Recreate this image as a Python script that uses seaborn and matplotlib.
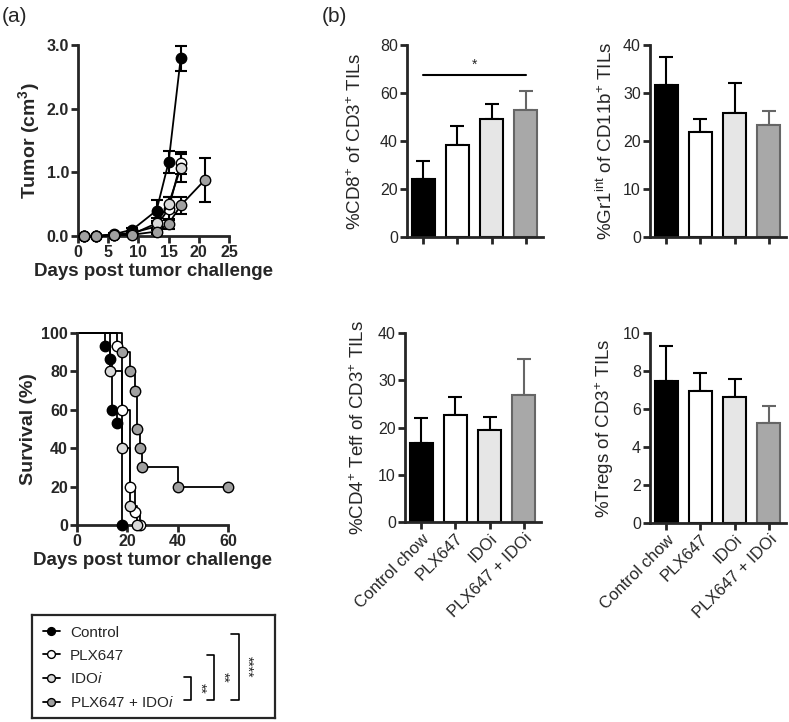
import numpy as np
import pandas as pd
import matplotlib
matplotlib.use("Agg")
import matplotlib.pyplot as plt
import seaborn as sns

sns.set_style("ticks")
plt.rcParams['font.family'] = ['Liberation Sans', 'DejaVu Sans']
plt.rcParams['mathtext.fontset'] = 'custom'
plt.rcParams['mathtext.rm'] = 'Liberation Sans'
plt.rcParams['mathtext.it'] = 'Liberation Sans:italic'
plt.rcParams['mathtext.bf'] = 'Liberation Sans:bold'
plt.rcParams['mathtext.default'] = 'rm'

# ---- data ----
groups = ['Control', 'PLX647', 'IDOi', 'PLX647 + IDOi']
legend_labels = ['Control', 'PLX647', r'IDO$\mathit{i}$', r'PLX647 + IDO$\mathit{i}$']
colors = ['black', 'white', '#d9d9d9', '#a0a0a0']

# tumor growth (cm3)
ctrl_days = [1, 3, 6, 9, 13, 15, 17]
ctrl_vol = [0.0, 0.0, 0.03, 0.10, 0.40, 1.16, 2.79]
ctrl_err = [0.0, 0.0, 0.01, 0.02, 0.16, 0.17, 0.20]
plx_days = [1, 3, 6, 9, 13, 15, 17]
plx_vol = [0.0, 0.0, 0.02, 0.05, 0.15, 0.43, 1.15]
plx_err = [0.0, 0.0, 0.01, 0.02, 0.06, 0.18, 0.17]
ido_days = [1, 3, 6, 9, 13, 15, 17]
ido_vol = [0.0, 0.0, 0.01, 0.03, 0.20, 0.50, 1.07]
ido_err = [0.0, 0.0, 0.01, 0.02, 0.08, 0.12, 0.22]
combo_days = [1, 3, 6, 9, 13, 15, 17, 21]
combo_vol = [0.0, 0.0, 0.01, 0.02, 0.07, 0.19, 0.48, 0.88]
combo_err = [0.0, 0.0, 0.01, 0.01, 0.04, 0.08, 0.13, 0.34]

# survival (%)
ctrl_sd = [0, 11, 13, 14, 16, 18]
ctrl_sv = [100, 93.3, 86.7, 60, 53.3, 0]
plx_sd = [0, 16, 18, 21, 23, 25]
plx_sv = [100, 93.3, 60, 20, 6.7, 0]
ido_sd = [0, 13, 18, 21, 24]
ido_sv = [100, 80, 40, 10, 0]
combo_sd = [0, 18, 21, 23, 24, 25, 26, 40, 60]
combo_sv = [100, 90, 80, 70, 50, 40, 30, 20, 20]

# bar panels
bar_cats = ['Control chow', 'PLX647', 'IDOi', 'PLX647 + IDOi']
cd8_mean = [24.2, 38.5, 49.0, 53.0]
cd8_err = [7.6, 7.7, 6.5, 7.8]
gr1_mean = [31.6, 21.9, 25.8, 23.3]
gr1_err = [5.9, 2.6, 6.2, 3.0]
cd4_mean = [16.8, 22.6, 19.5, 26.8]
cd4_err = [5.2, 3.9, 2.8, 7.7]
treg_mean = [7.45, 6.95, 6.65, 5.25]
treg_err = [1.85, 0.95, 0.95, 0.90]

bar_fill = ['black', 'white', '#e6e6e6', '#a8a8a8']
bar_edge = ['black', 'black', 'black', '#666666']

fig = plt.figure(figsize=(7.89, 7.22), dpi=100)
W, H = 789, 722


def px_axes(left, top, right, bottom):
    return fig.add_axes([left / W, 1 - bottom / H, (right - left) / W, (bottom - top) / H])


def style(ax, size=11):
    sns.despine(ax=ax)
    for s in ['left', 'bottom']:
        ax.spines[s].set_linewidth(2.0)
    ax.tick_params(width=2.0, length=5, labelsize=size, pad=1.5)


# ---- tumor growth ----
ax1 = px_axes(78, 45, 229, 236)
tumor = [(ctrl_days, ctrl_vol, ctrl_err), (plx_days, plx_vol, plx_err),
         (ido_days, ido_vol, ido_err), (combo_days, combo_vol, combo_err)]
handles = []
for (d, v, e), c, lab in zip(tumor, colors, legend_labels):
    ax1.errorbar(d, v, yerr=e, fmt='none', ecolor='black', elinewidth=1.5, capsize=4,
                 capthick=1.5, clip_on=False, zorder=2)
    ln, = ax1.plot(d, v, color='black', lw=1.3, marker='o', ms=7.5, mfc=c, mec='black',
                   mew=1.0, clip_on=False, zorder=3, label=lab)
    handles.append(ln)
ax1.set_xlim(0, 25)
ax1.set_ylim(0, 3.0)
ax1.set_xticks([0, 5, 10, 15, 20, 25])
ax1.set_yticks([0, 1, 2, 3])
ax1.set_yticklabels(['0.0', '1.0', '2.0', '3.0'])
style(ax1, 11.5)
for t in ax1.get_xticklabels() + ax1.get_yticklabels():
    t.set_fontweight('bold')
ax1.set_ylabel(r'Tumor (cm$^{\mathbf{3}}$)', fontsize=14, fontweight='bold', labelpad=3)
ax1.set_xlabel('Days post tumor challenge', fontsize=13.5, fontweight='bold', labelpad=2)

# ---- survival ----
ax2 = px_axes(77, 333, 228, 525)
surv = [(ctrl_sd, ctrl_sv), (plx_sd, plx_sv), (ido_sd, ido_sv), (combo_sd, combo_sv)]
for (d, s), c in zip(surv, colors):
    ax2.step(d, s, where='post', color='black', lw=1.3, clip_on=False, zorder=2)
    ax2.plot(d[1:], s[1:], ls='none', marker='o', ms=7.5, mfc=c, mec='black', mew=1.0,
             clip_on=False, zorder=3)
ax2.set_xlim(0, 60)
ax2.set_ylim(0, 100)
ax2.set_xticks([0, 20, 40, 60])
ax2.set_yticks([0, 20, 40, 60, 80, 100])
style(ax2, 11.5)
for t in ax2.get_xticklabels() + ax2.get_yticklabels():
    t.set_fontweight('bold')
ax2.set_ylabel('Survival (%)', fontsize=14, fontweight='bold', labelpad=3)
ax2.set_xlabel('Days post tumor challenge', fontsize=13.5, fontweight='bold', labelpad=2)

# ---- legend box ----
axl = px_axes(32, 615, 275, 718)
axl.set_xticks([])
axl.set_yticks([])
for s in axl.spines.values():
    s.set_linewidth(1.6)
axl.legend(handles, legend_labels, loc='upper left', frameon=False, fontsize=11,
           handlelength=1.1, handletextpad=0.7, labelspacing=0.58, borderaxespad=0.3,
           markerscale=0.75)
for x, y0, y1, stars, sy in [(0.655, 0.40, 0.17, '**', 0.29),
                              (0.750, 0.61, 0.17, '**', 0.39),
                              (0.850, 0.82, 0.17, '****', 0.50)]:
    axl.plot([x - 0.03, x, x, x - 0.03], [y0, y0, y1, y1], color='black', lw=1.2,
             transform=axl.transAxes)
    axl.text(x + 0.035, sy, stars, rotation=270, ha='center', va='center', fontsize=10,
             transform=axl.transAxes)

# ---- bar panels ----
def bar_panel(box, means, errs, ylim, yticks, ylabel, show_labels, lpad=5):
    ax = px_axes(*box)
    df = pd.DataFrame({'cat': bar_cats, 'val': means})
    sns.barplot(data=df, x='cat', y='val', hue='cat', palette=bar_fill, width=0.67,
                errorbar=None, legend=False, ax=ax, zorder=2)
    for p, ec in zip(ax.patches, bar_edge):
        p.set_edgecolor(ec)
        p.set_linewidth(1.5)
    for i, (m, e) in enumerate(zip(means, errs)):
        ax.errorbar(i, m, yerr=[[0], [e]], fmt='none', ecolor=bar_edge[i], elinewidth=1.5,
                    capsize=5, capthick=1.5, zorder=1)
    ax.set_xlim(-0.47, 3.5)
    ax.set_ylim(*ylim)
    ax.set_yticks(yticks)
    style(ax, 11.5)
    ax.set_xlabel('')
    ax.set_ylabel(ylabel, fontsize=13.5, labelpad=lpad)
    ax.set_xticks(range(4))
    if show_labels:
        ax.set_xticklabels(bar_cats, rotation=45, ha='right', rotation_mode='anchor',
                           fontsize=12)
    else:
        ax.set_xticklabels([])
    return ax


axb1 = bar_panel((407, 45, 543, 237), cd8_mean, cd8_err, (0, 80), [0, 20, 40, 60, 80],
                 r'%CD8$^{+}$ of CD3$^{+}$ TILs', False, lpad=11)
axb1.plot([0, 3], [67.5, 67.5], color='black', lw=1.5)
axb1.text(1.5, 69, '*', ha='center', va='bottom', fontsize=10)
axb2 = bar_panel((650, 45, 786, 237), gr1_mean, gr1_err, (0, 40), [0, 10, 20, 30, 40],
                 r'%Gr1$^{int}$ of CD11b$^{+}$ TILs', False)
axb3 = bar_panel((405, 333, 541, 522), cd4_mean, cd4_err, (0, 40), [0, 10, 20, 30, 40],
                 r'%CD4$^{+}$ Teff of CD3$^{+}$ TILs', True, lpad=7)
axb4 = bar_panel((650, 333, 786, 523), treg_mean, treg_err, (0, 10), [0, 2, 4, 6, 8, 10],
                 r'%Tregs of CD3$^{+}$ TILs', True)

fig.text(2 / W, 1 - 22 / H, '(a)', fontsize=15)
fig.text(322 / W, 1 - 22 / H, '(b)', fontsize=15)

fig.savefig('out.png', dpi=100)
